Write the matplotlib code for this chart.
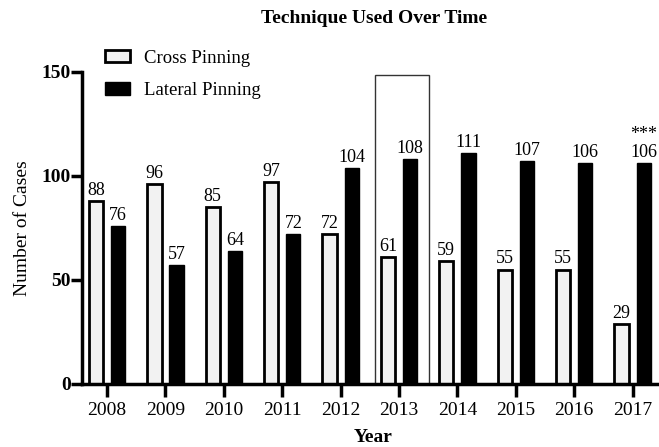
import matplotlib.pyplot as plt
import numpy as np

plt.rcParams['font.family'] = ['Liberation Serif', 'DejaVu Serif']

# Data
years = ['2008', '2009', '2010', '2011', '2012', '2013', '2014', '2015', '2016', '2017']
cross_pinning = [88, 96, 85, 97, 72, 61, 59, 55, 55, 29]
lateral_pinning = [76, 57, 64, 72, 104, 108, 111, 107, 106, 106]
# empty outline box drawn around 2013 in the original
highlight_year = '2013'
highlight_height = 148.5
# significance mark over the 2017 lateral bar
sig_label = '***'
sig_height = 116


def main():
    fig = plt.figure(figsize=(6.59, 4.47), dpi=100)
    ax = fig.add_axes([0.1244, 0.1410, 0.8736, 0.6980])

    x = np.arange(len(years))
    w = 0.245
    off = 0.19

    # outline box (behind the bars)
    hx = years.index(highlight_year)
    ax.bar(hx + 0.05, highlight_height, width=0.92, facecolor='white',
           edgecolor='#333333', linewidth=1.0, zorder=1)

    b1 = ax.bar(x - off, cross_pinning, width=w, facecolor='#f2f2f2',
                edgecolor='black', linewidth=2.0, label='Cross Pinning', zorder=2)
    b2 = ax.bar(x + off, lateral_pinning, width=w, facecolor='black',
                edgecolor='black', linewidth=1.0, label='Lateral Pinning', zorder=2)

    for i, v in enumerate(cross_pinning):
        ax.annotate(str(v), (x[i] - off, v), xytext=(0, 1.5), textcoords='offset points',
                    ha='center', va='bottom', fontsize=13)
    for i, v in enumerate(lateral_pinning):
        ax.annotate(str(v), (x[i] + off, v), xytext=(0, 1.5), textcoords='offset points',
                    ha='center', va='bottom', fontsize=13)

    ax.text(x[-1] + off, sig_height, sig_label, ha='center', va='bottom', fontsize=13)

    ax.set_xlim(-0.43, 9.43)
    ax.set_ylim(0, 150)
    ax.set_xticks(x)
    ax.set_xticklabels(years, fontsize=14)
    ax.set_yticks([0, 50, 100, 150])
    ax.set_yticklabels(['0', '50', '100', '150'], fontsize=14, fontweight='bold')

    for s in ['top', 'right']:
        ax.spines[s].set_visible(False)
    for s in ['left', 'bottom']:
        ax.spines[s].set_linewidth(2.5)
    ax.tick_params(axis='x', width=2.5, length=9, direction='out', pad=4)
    ax.tick_params(axis='y', width=2.5, length=8, direction='out', pad=0)

    ax.set_ylabel('Number of Cases', fontsize=14, labelpad=8)
    fig.text(0.566, 0.022, 'Year', fontsize=14, fontweight='bold', ha='center', va='center')
    fig.text(0.5675, 0.958, 'Technique Used Over Time', fontsize=14, fontweight='bold',
             ha='center', va='center')

    ax.legend(handles=[b1, b2], loc='upper left', bbox_to_anchor=(0.159, 0.889),
              bbox_transform=fig.transFigure, borderaxespad=0, borderpad=0,
              frameon=False, fontsize=13.5, handlelength=1.35, handleheight=0.65,
              labelspacing=0.82, handletextpad=0.75)

    fig.savefig('out.png', dpi=100)


if __name__ == "__main__":
    main()
